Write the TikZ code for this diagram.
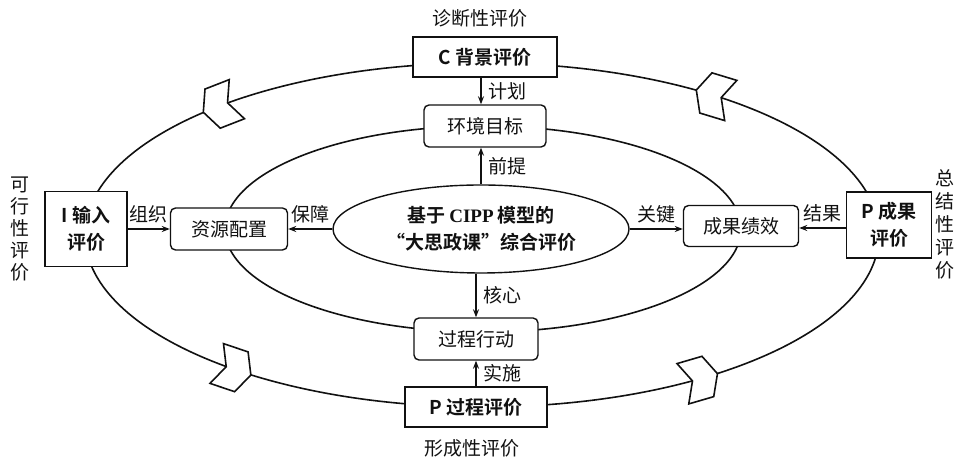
\documentclass[tikz,border=0pt]{standalone}
\usepackage{fontspec}
\setmainfont{Noto Sans CJK SC}[BoldFont={Noto Sans CJK SC Bold}]
\newfontfamily\cippserif{Liberation Serif}
\usetikzlibrary{arrows.meta,shapes.geometric}
\definecolor{cpInk}{HTML}{111111}

\begin{document}
\begin{tikzpicture}[x=1pt,y=1pt,font=\fontsize{19}{24}\selectfont,cpInk,
  evalbox/.style={draw,line width=1.6pt,fill=white,inner sep=0pt,align=center,
    font=\fontsize{19}{27}\selectfont\bfseries},
  aimbox/.style={draw,line width=1.4pt,fill=white,rounded corners=5pt,inner sep=0pt,minimum height=42pt},
  flow/.style={line width=1.4pt,-{Stealth[length=8pt,width=6pt]}},
  ring/.style={line width=1.6pt},
  chev/.style={draw,line width=1.6pt,fill=white,line join=miter}]
  \useasboundingbox (0,0) rectangle (960,462);
  % 外环与内环
  \draw[ring] (482,227) ellipse [x radius=397pt, y radius=172pt];
  \draw[ring] (483,233) ellipse [x radius=258pt, y radius=103pt];
  % 外环上的方向标记（逆时针）
  \foreach \t in {55,132,232,304} {
    \pgfmathsetmacro\ang{atan2(172*cos(\t),-397*sin(\t))}
    \begin{scope}[shift={({482+397*cos(\t)},{227+172*sin(\t)})},rotate=\ang]
      \draw[chev] (-22,21) -- (4,21) -- (14,0) -- (4,-21) -- (-22,-21) -- (-12,0) -- cycle;
    \end{scope}
  }
  % 中心
  \node[draw,ellipse,line width=1.4pt,fill=white,minimum width=296pt,minimum height=88pt,
    inner sep=0pt,align=center,font=\fontsize{19}{27}\selectfont\bfseries] (ctr) at (481,233)
    {基于 {\cippserif CIPP} 模型的\\“大思政课”综合评价};
  % 内环上的四个环节
  \node[aimbox,minimum width=122pt] (env) at (485,336) {环境目标};
  \node[aimbox,minimum width=117pt] (res) at (229,233) {资源配置};
  \node[aimbox,minimum width=115pt,minimum height=41pt] (ach) at (741,236) {成果绩效};
  \node[aimbox,minimum width=124pt] (act) at (476,123) {过程行动};
  % 外环上的四种评价
  \node[evalbox,minimum width=144pt,minimum height=40pt] (ctx) at (485,405) {C 背景评价};
  \node[evalbox,minimum width=142pt,minimum height=40pt] (prc) at (476,55) {P 过程评价};
  \node[evalbox,minimum width=82pt,minimum height=75pt] (inp) at (86,233) {I 输入\\评价};
  \node[evalbox,minimum width=85pt,minimum height=66pt] (out) at (889,237) {P 成果\\评价};
  \node (diag) at (480,444) {诊断性评价};
  \node (form) at (472,14) {形成性评价};
  \node[align=center,font=\fontsize{19}{22}\selectfont] (feas) at (20,233) {可\\行\\性\\评\\价};
  \node[align=center,font=\fontsize{19}{23}\selectfont] (summ) at (945,238) {总\\结\\性\\评\\价};
  % 连接
  \draw[flow] (ctx.south -| ctr) -- node[right=3pt] (lPlan) {计划} (env.north -| ctr);
  \draw[flow] (ctr.north) -- node[right=3pt] (lBase) {前提} (env.south -| ctr);
  \draw[flow] (ctr.south -| act) -- node[right=3pt] (lCore) {核心} (act.north);
  \draw[flow] (prc.north -| act) -- node[right=3pt] (lDo) {实施} (act.south);
  \draw[flow] (inp.east |- res) -- node[above=2pt] (lOrg) {组织} (res.west);
  \draw[flow] (ctr.west) -- node[above=2pt] (lSafe) {保障} (res.east |- ctr.west);
  \draw[flow] (ctr.east) -- node[above=2pt] (lKey) {关键} (ach.west |- ctr.east);
  \draw[flow] (out.west |- 0,234) -- node[above=2pt] (lRes) {结果} (ach.east |- 0,234);
\end{tikzpicture}
\end{document}
